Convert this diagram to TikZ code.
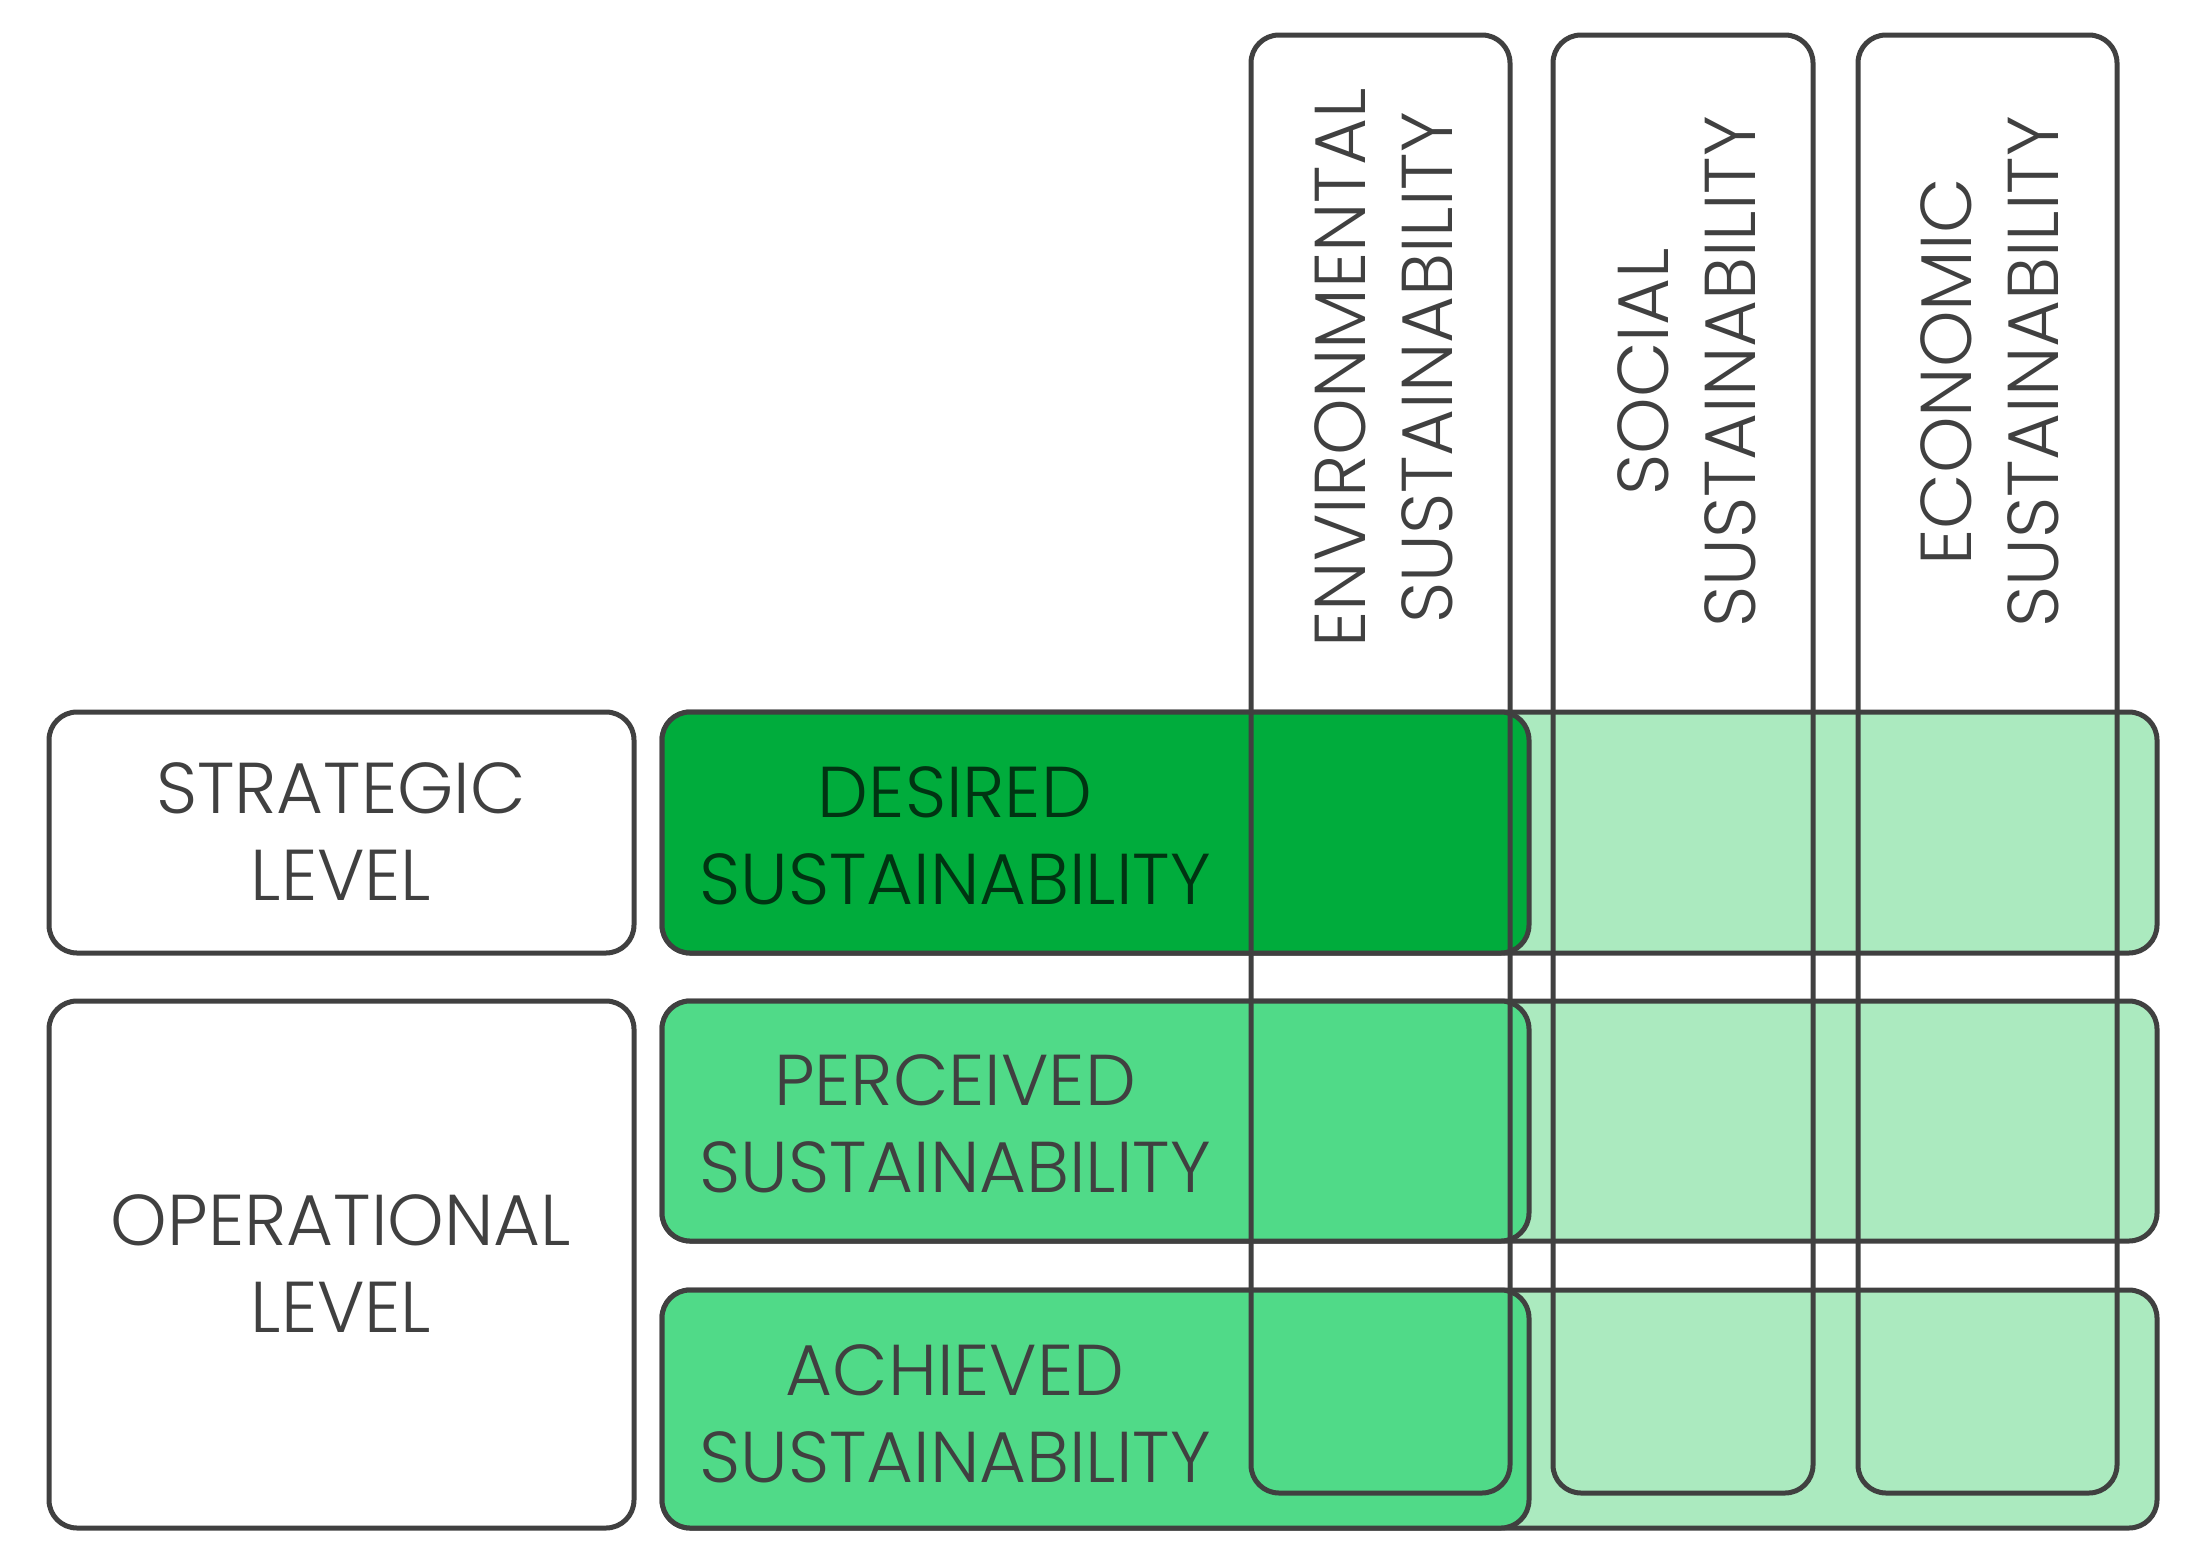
\documentclass[tikz,border=0pt]{standalone}
\usepackage{fontspec}
\setmainfont{Poppins}[UprightFont=* Light]
\begin{document}
\begin{tikzpicture}[x=1pt,y=-1pt,
  bx/.style={draw=black!75,line width=5pt,rounded corners=28pt},
  lbl/.style={text=black!75,font=\fontsize{72}{87}\selectfont,align=center},
  vlbl/.style={text=black!75,font=\fontsize{72}{87}\selectfont,align=center,rotate=90,anchor=center}]
\useasboundingbox (0,0) rectangle (2187,1558);
\definecolor{dg}{HTML}{00AC3C}
\definecolor{mg}{HTML}{50DA88}
\definecolor{lg}{HTML}{ABEABF}
% left boxes
\draw[bx,fill=white] (49,712) rectangle (634,953);
\node[lbl] (s) at (341,832) {STRATEGIC\\LEVEL};
\draw[bx,fill=white] (49,1001) rectangle (634,1528);
\node[lbl] (o) at (341,1264) {OPERATIONAL\\LEVEL};
% rows
\draw[bx,fill=lg] (662,712) rectangle (2157,953);
\draw[bx,fill=dg] (662,712) rectangle (1529,953);
\draw[bx,fill=lg] (662,1001) rectangle (2157,1241);
\draw[bx,fill=mg] (662,1001) rectangle (1529,1241);
\draw[bx,fill=lg] (662,1290) rectangle (2157,1528);
\draw[bx,fill=mg] (662,1290) rectangle (1529,1528);
\node[lbl,text=black!70!dg] (d) at (955,836) {DESIRED\\SUSTAINABILITY};
\node[lbl] (p) at (955,1124) {PERCEIVED\\SUSTAINABILITY};
\node[lbl] (a) at (955,1414) {ACHIEVED\\SUSTAINABILITY};
% columns
\draw[bx] (1251,35) rectangle (1510,1493);
\draw[bx] (1553,35) rectangle (1813,1493);
\draw[bx] (1858,35) rectangle (2117,1493);
\node[vlbl] (e) at (1384,368) {ENVIRONMENTAL\\SUSTAINABILITY};
\node[vlbl] (so) at (1687,372) {SOCIAL\\SUSTAINABILITY};
\node[vlbl] (ec) at (1990,372) {ECONOMIC\\SUSTAINABILITY};
\end{tikzpicture}
\end{document}
